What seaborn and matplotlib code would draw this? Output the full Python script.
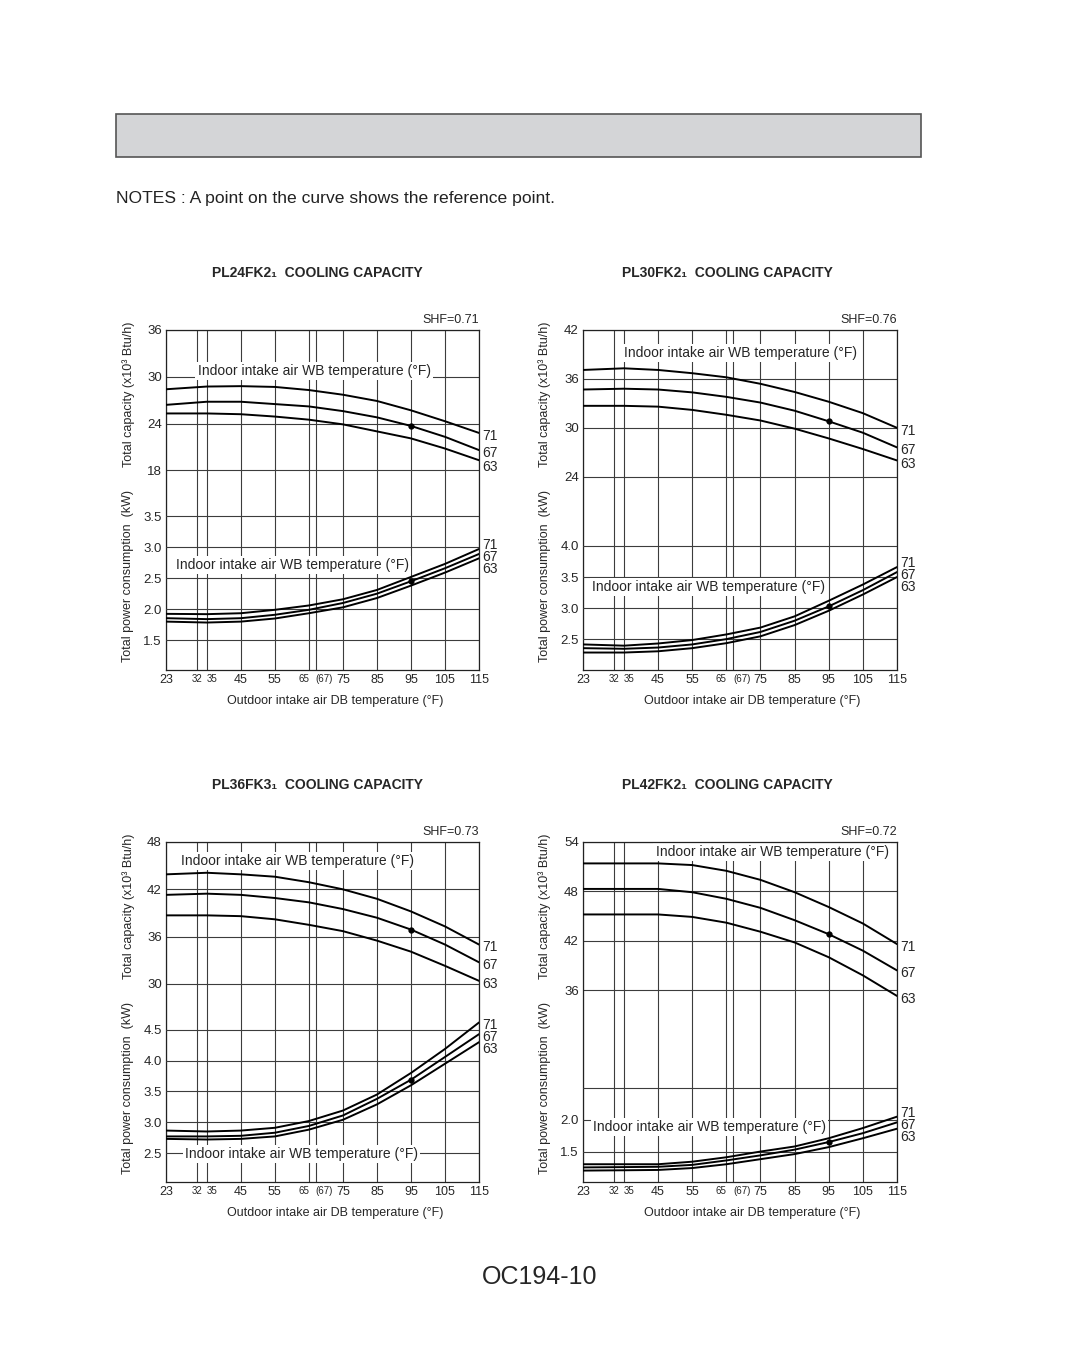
import numpy as np
import pandas as pd
import matplotlib
matplotlib.use('Agg')
import matplotlib.pyplot as plt
from matplotlib.patches import Rectangle
import seaborn as sns

sns.set_style('white')
plt.rcParams['font.family'] = ['Liberation Sans', 'DejaVu Sans']

# outdoor DB temperature (F) where the curves were read
temps = [23, 35, 45, 55, 65, 75, 85, 95, 105, 115]
wb_labels = ['71', '67', '63']

x_ticks = [23, 32, 35, 45, 55, 65, 67, 75, 85, 95, 105, 115]
x_ticklabels = ['23', '32', '35', '45', '55', '65', '(67)', '75', '85', '95', '105', '115']
small_ticks = ['32', '35', '65', '(67)']

# PL24FK2 - total capacity (x10^3 Btu/h) and power (kW)
pl24_cap71 = [28.4, 28.75, 28.8, 28.7, 28.3, 27.7, 26.9, 25.7, 24.3, 22.8]
pl24_cap67 = [26.4, 26.8, 26.8, 26.5, 26.2, 25.6, 24.8, 23.7, 22.3, 20.6]
pl24_cap63 = [25.3, 25.3, 25.2, 24.9, 24.5, 23.9, 23.0, 22.1, 20.8, 19.3]
pl24_pow71 = [1.925, 1.92, 1.935, 1.99, 2.06, 2.16, 2.31, 2.52, 2.73, 2.97]
pl24_pow67 = [1.855, 1.84, 1.855, 1.91, 1.99, 2.10, 2.25, 2.45, 2.66, 2.89]
pl24_pow63 = [1.80, 1.785, 1.80, 1.85, 1.935, 2.03, 2.18, 2.38, 2.59, 2.82]

# PL30FK2
pl30_cap71 = [37.1, 37.3, 37.1, 36.7, 36.2, 35.4, 34.4, 33.2, 31.8, 30.0]
pl30_cap67 = [34.7, 34.8, 34.7, 34.35, 33.8, 33.1, 32.1, 30.8, 29.4, 27.6]
pl30_cap63 = [32.7, 32.7, 32.6, 32.2, 31.6, 30.9, 29.9, 28.7, 27.4, 26.0]
pl30_pow71 = [2.42, 2.40, 2.435, 2.49, 2.58, 2.69, 2.87, 3.12, 3.38, 3.66]
pl30_pow67 = [2.36, 2.35, 2.37, 2.42, 2.505, 2.62, 2.80, 3.03, 3.29, 3.58]
pl30_pow63 = [2.29, 2.29, 2.31, 2.36, 2.44, 2.55, 2.73, 2.96, 3.22, 3.50]

# PL36FK3
pl36_cap71 = [43.9, 44.1, 43.9, 43.6, 42.9, 42.0, 40.8, 39.2, 37.3, 35.0]
pl36_cap67 = [41.3, 41.45, 41.3, 40.9, 40.35, 39.5, 38.4, 36.9, 35.0, 32.75]
pl36_cap63 = [38.7, 38.7, 38.6, 38.2, 37.5, 36.7, 35.5, 34.1, 32.3, 30.4]
pl36_pow71 = [2.865, 2.85, 2.865, 2.91, 3.02, 3.19, 3.45, 3.80, 4.19, 4.62]
pl36_pow67 = [2.77, 2.77, 2.78, 2.83, 2.94, 3.11, 3.38, 3.69, 4.06, 4.43]
pl36_pow63 = [2.73, 2.72, 2.73, 2.77, 2.88, 3.04, 3.29, 3.60, 3.95, 4.30]

# PL42FK2
pl42_cap71 = [51.4, 51.4, 51.4, 51.2, 50.5, 49.4, 47.9, 46.1, 44.1, 41.6]
pl42_cap67 = [48.3, 48.3, 48.3, 47.9, 47.1, 46.0, 44.5, 42.8, 40.8, 38.4]
pl42_cap63 = [45.2, 45.2, 45.2, 44.9, 44.2, 43.1, 41.8, 40.0, 37.8, 35.3]
pl42_pow71 = [1.30, 1.30, 1.30, 1.34, 1.41, 1.50, 1.58, 1.71, 1.87, 2.05]
pl42_pow67 = [1.25, 1.255, 1.26, 1.29, 1.36, 1.44, 1.53, 1.65, 1.79, 1.96]
pl42_pow63 = [1.20, 1.205, 1.21, 1.24, 1.30, 1.38, 1.46, 1.57, 1.71, 1.86]

# reference points (at 95 F)
ref_temp = 95
ref_cap = [23.7, 30.8, 36.9, 42.8]
ref_pow = [2.45, 3.03, 3.69, 1.65]

titles = ['PL24FK2₁  COOLING CAPACITY', 'PL30FK2₁  COOLING CAPACITY',
          'PL36FK3₁  COOLING CAPACITY', 'PL42FK2₁  COOLING CAPACITY']
shf_labels = ['SHF=0.71', 'SHF=0.76', 'SHF=0.73', 'SHF=0.72']
cap_ticks = [[18, 24, 30, 36], [24, 30, 36, 42], [30, 36, 42, 48], [36, 42, 48, 54]]
pow_ticks = [[1.5, 2.0, 2.5, 3.0, 3.5], [2.5, 3.0, 3.5, 4.0],
             [2.5, 3.0, 3.5, 4.0, 4.5], [1.5, 2.0, 2.5]]
pow_ticklabels = [['1.5', '2.0', '2.5', '3.0', '3.5'], ['2.5', '3.0', '3.5', '4.0'],
                  ['2.5', '3.0', '3.5', '4.0', '4.5'], ['1.5', '2.0', '']]
cap_lims = [(-7.6, 36), (0.3, 42), (4.9, 48), (12.7, 54)]
pow_lims = [(1.02, 6.50), (2.01, 7.46), (2.03, 7.55), (1.02, 6.38)]

cap_sets = [[pl24_cap71, pl24_cap67, pl24_cap63], [pl30_cap71, pl30_cap67, pl30_cap63],
            [pl36_cap71, pl36_cap67, pl36_cap63], [pl42_cap71, pl42_cap67, pl42_cap63]]
pow_sets = [[pl24_pow71, pl24_pow67, pl24_pow63], [pl30_pow71, pl30_pow67, pl30_pow63],
            [pl36_pow71, pl36_pow67, pl36_pow63], [pl42_pow71, pl42_pow67, pl42_pow63]]

# label positions of the "Indoor intake air WB temperature" notes (axes fraction)
cap_note_pos = [(0.473, 0.879), (0.50, 0.932), (0.419, 0.944), (0.602, 0.971)]
pow_note_pos = [(0.403, 0.309), (0.401, 0.244), (0.434, 0.082), (0.404, 0.162)]

W, H = 1080, 1364
fig = plt.figure(figsize=(W / 100, H / 100), dpi=100)
fig.patch.set_facecolor('white')

# banner + notes + footer
fig.patches.append(Rectangle((116 / W, 1 - 157 / H), (921 - 116) / W, 43 / H,
                             transform=fig.transFigure, facecolor='#d4d5d7',
                             edgecolor='#555555', lw=1.2))
fig.text(116 / W, 1 - 198 / H, 'NOTES : A point on the curve shows the reference point.',
         fontsize=12.6, va='center', ha='left', color='#222222')
fig.text(540 / W, 1 - 1277 / H, 'OC194-10', fontsize=18, va='center', ha='center')

# axes frames in pixels: left, top, right, bottom
frames = [(166, 330, 479, 670), (583, 330, 897, 670),
          (166, 842, 479, 1182), (583, 842, 897, 1182)]
title_pos = [(317, 273), (727, 273), (317, 785), (727, 785)]

grid_kw = dict(color='#3c3c3c', lw=0.8)


def long_df(series):
    rows = []
    for lab, vals in zip(wb_labels, series):
        for t, v in zip(temps, vals):
            rows.append({'temp': t, 'value': v, 'wb': lab})
    return pd.DataFrame(rows)


def spread_labels(ax, ends, gap_px):
    # pixel y (from bottom) of curve ends, pushed apart so the labels don't touch
    ys = [ax.transData.transform((115, v))[1] for v in ends]
    ys[0] = max(ys[0], ys[1] + gap_px)
    ys[2] = min(ys[2], ys[1] - gap_px)
    return ys


for i in range(4):
    l, t, r, b = frames[i]
    ax = fig.add_axes([l / W, 1 - b / H, (r - l) / W, (b - t) / H])
    axp = ax.twinx()

    # capacity curves
    sns.lineplot(data=long_df(cap_sets[i]), x='temp', y='value', hue='wb',
                 palette=['black'] * 3, legend=False, lw=1.4, ax=ax, zorder=3)
    ax.plot([ref_temp], [ref_cap[i]], 'o', color='black', ms=3.5, zorder=4)
    ax.set_xlim(23, 115)
    ax.set_ylim(*cap_lims[i])
    ax.set_xticks(x_ticks)
    ax.set_xticklabels(x_ticklabels)
    ax.set_yticks(cap_ticks[i])
    ax.grid(True, **grid_kw)
    ax.set_axisbelow(True)
    ax.set_xlabel('')
    ax.set_ylabel('')
    ax.tick_params(axis='x', length=0, labelsize=9, pad=3)
    ax.tick_params(axis='y', length=0, labelsize=9.5, pad=3)
    for lbl in ax.get_xticklabels():
        txt = lbl.get_text()
        if txt in small_ticks:
            lbl.set_fontsize(7)
        if txt == '65':
            lbl.set_ha('right')
        if txt in ('(67)', '35'):
            lbl.set_ha('left')
    for s in ax.spines.values():
        s.set_color('#222222')
        s.set_linewidth(0.9)

    # power curves
    sns.lineplot(data=long_df(pow_sets[i]), x='temp', y='value', hue='wb',
                 palette=['black'] * 3, legend=False, lw=1.4, ax=axp, zorder=3)
    axp.plot([ref_temp], [ref_pow[i]], 'o', color='black', ms=3.5, zorder=4)
    axp.set_ylim(*pow_lims[i])
    axp.set_yticks(pow_ticks[i])
    axp.set_yticklabels(pow_ticklabels[i])
    axp.yaxis.set_ticks_position('left')
    axp.yaxis.set_label_position('left')
    axp.grid(True, axis='y', **grid_kw)
    axp.grid(False, axis='x')
    axp.set_axisbelow(True)
    axp.set_ylabel('')
    axp.set_xlabel('')
    axp.tick_params(axis='y', length=0, labelsize=9.5, pad=3)
    for s in axp.spines.values():
        s.set_visible(False)

    # notes
    note = 'Indoor intake air WB temperature (°F)'
    ax.text(*cap_note_pos[i], note, transform=ax.transAxes, ha='center', va='center',
            fontsize=10, zorder=2.5,
            bbox=dict(facecolor='white', edgecolor='none', pad=1.5))
    axp.text(*pow_note_pos[i], note, transform=axp.transAxes, ha='center', va='center',
             fontsize=10, zorder=2.5,
             bbox=dict(facecolor='white', edgecolor='none', pad=1.5))

    # curve end labels
    cap_y = spread_labels(ax, [s[-1] for s in cap_sets[i]], 14)
    for k, lab in enumerate(wb_labels):
        ax.annotate(lab, (1.0, cap_y[k]), xycoords=('axes fraction', 'figure pixels'),
                    xytext=(2, -2), textcoords='offset points', ha='left', va='center',
                    fontsize=10, annotation_clip=False)
        axp.annotate(lab, (115, pow_sets[i][1][-1]), xytext=(2, -2 + 8.8 * (1 - k)),
                     textcoords='offset points', ha='left', va='center', fontsize=10,
                     annotation_clip=False)

    ax.text(1.0, 1.012, shf_labels[i], transform=ax.transAxes, ha='right', va='bottom',
            fontsize=9)
    ax.text(-0.121, 0.81, 'Total capacity (x10³ Btu/h)', transform=ax.transAxes,
            rotation=90, ha='center', va='center', fontsize=9)
    ax.text(-0.121, 0.276, 'Total power consumption  (kW)', transform=ax.transAxes,
            rotation=90, ha='center', va='center', fontsize=9)
    ax.text(0.54, -0.091, 'Outdoor intake air DB temperature (°F)', transform=ax.transAxes,
            ha='center', va='center', fontsize=9)

    tx, ty = title_pos[i]
    fig.text(tx / W, 1 - ty / H, titles[i], fontsize=10, fontweight='bold',
             ha='center', va='center')

fig.savefig('out.png', dpi=100, facecolor='white')
